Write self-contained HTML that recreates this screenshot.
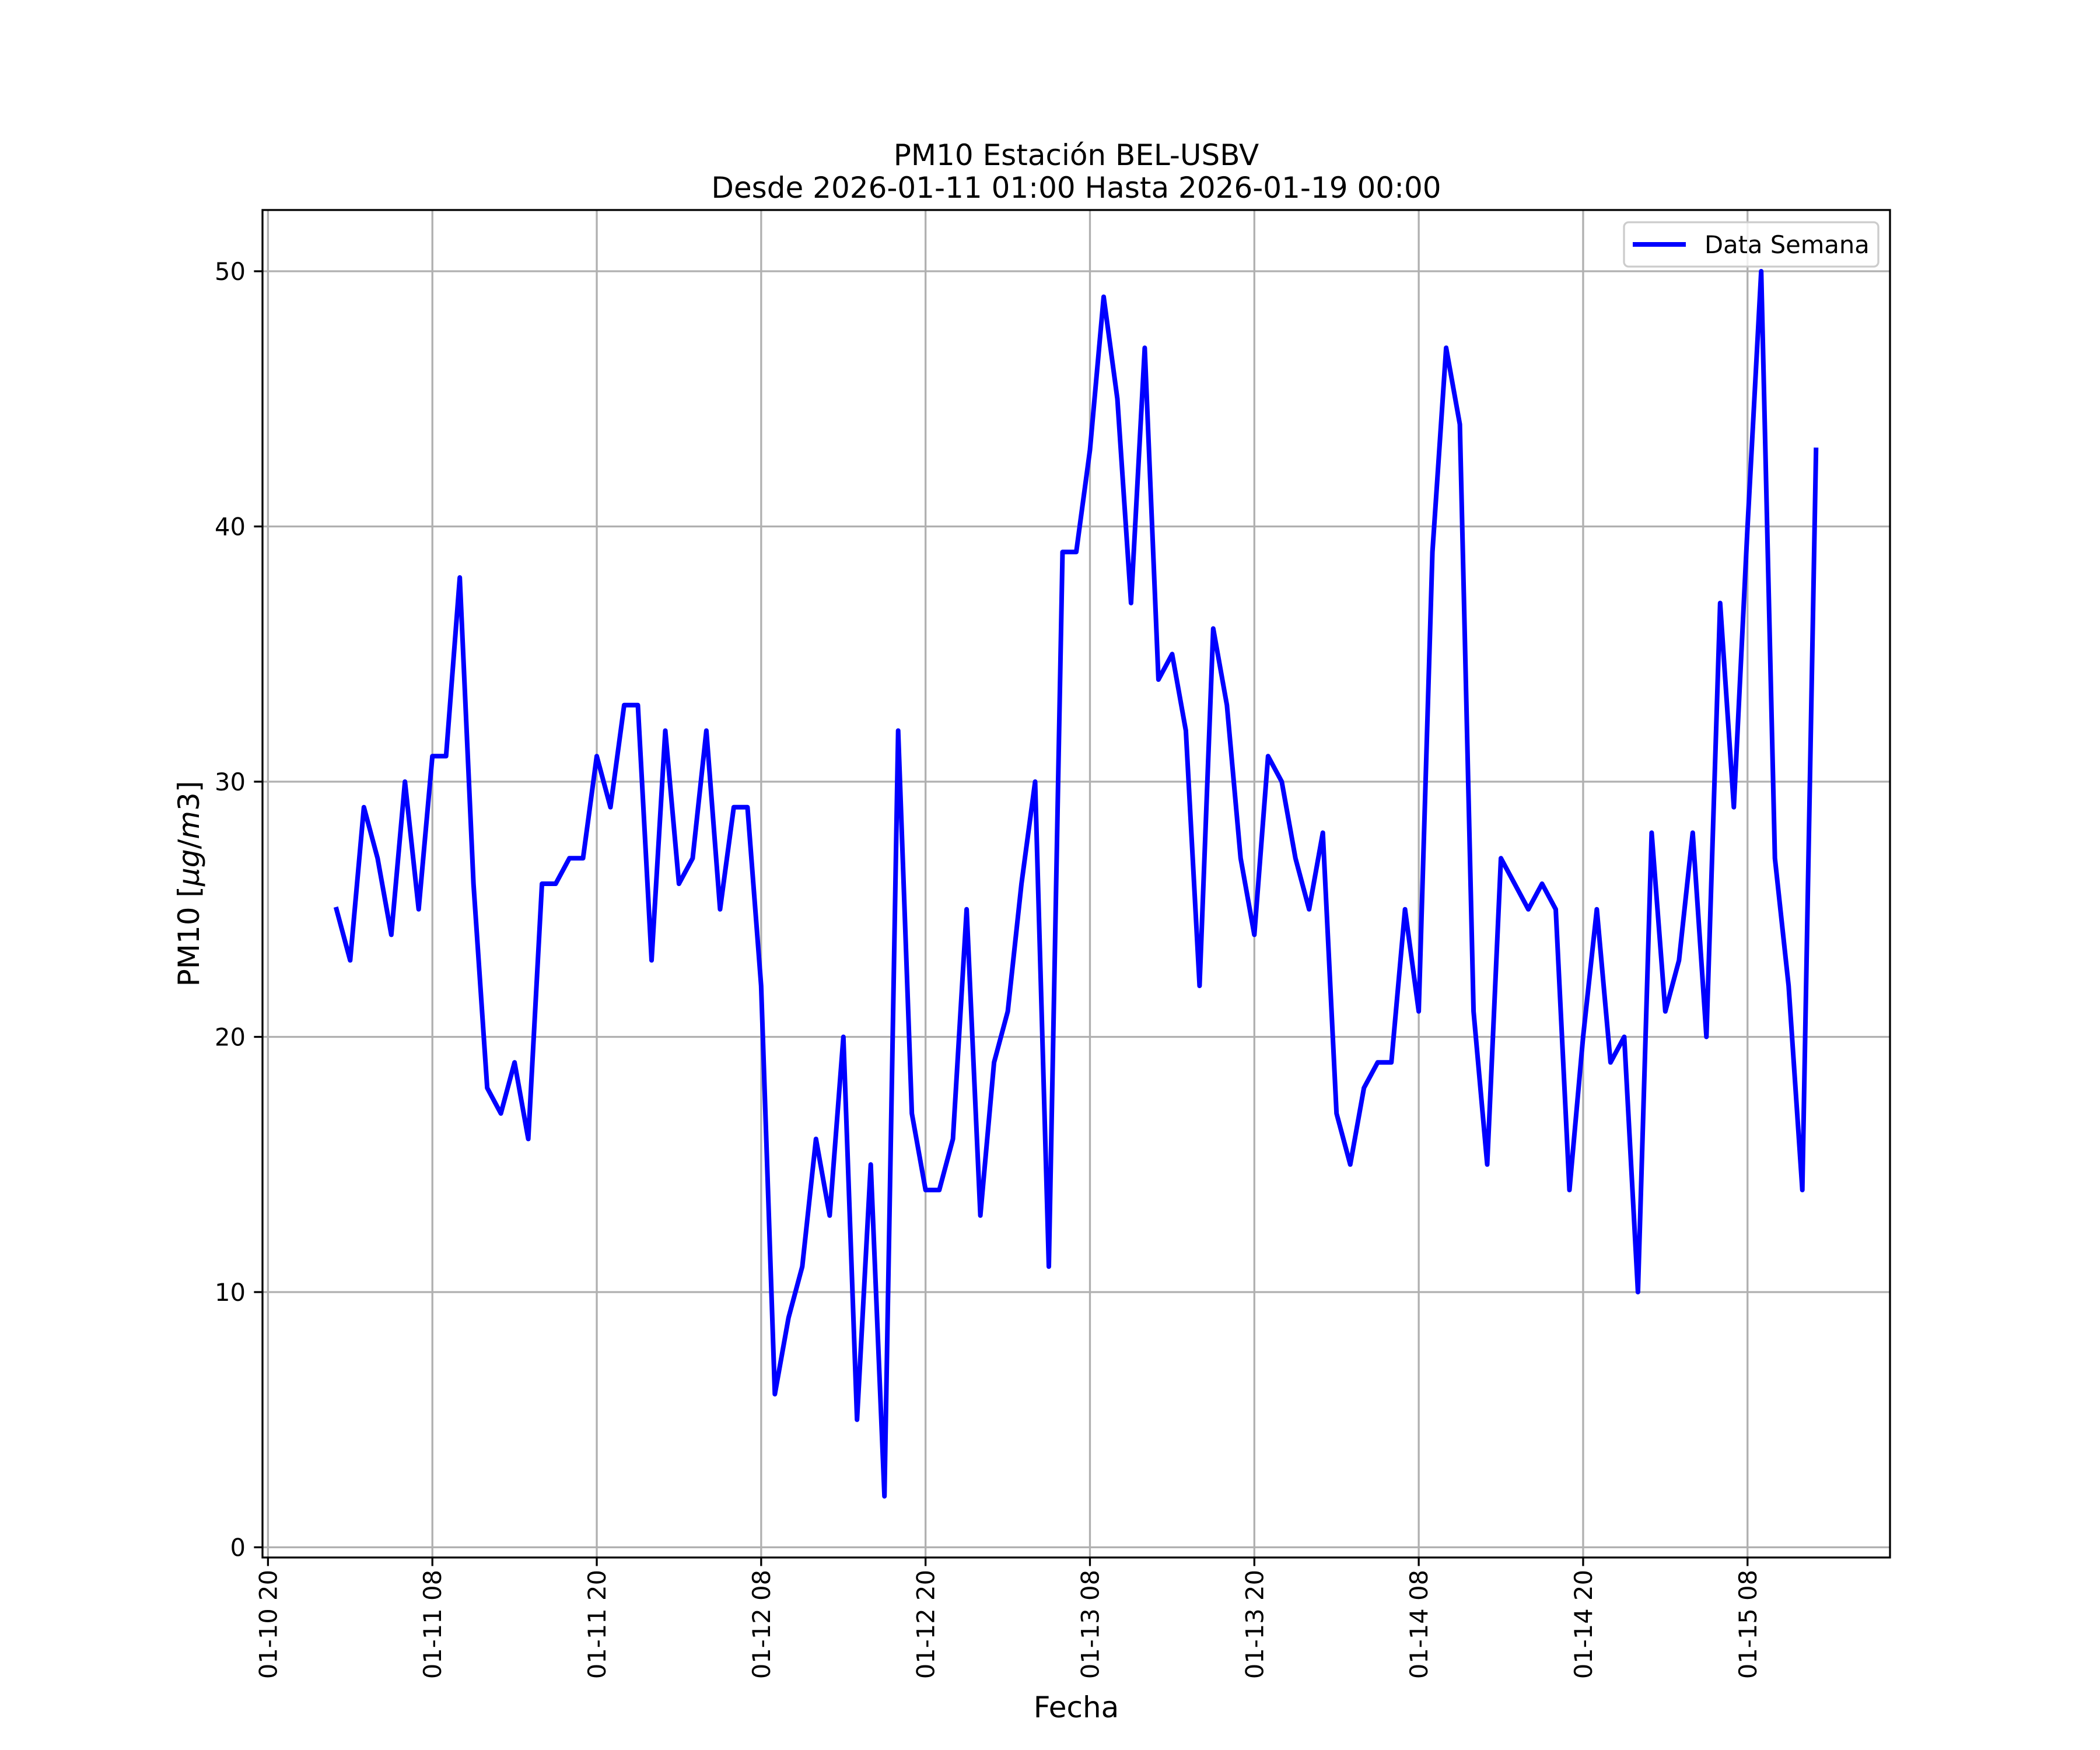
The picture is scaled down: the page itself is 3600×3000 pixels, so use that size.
<!DOCTYPE html>
<html><head><meta charset="utf-8"><style>
html,body{margin:0;padding:0;background:#fff;}
svg{display:block;}
text{font-family:"DejaVu Sans","Liberation Sans",sans-serif;fill:#000;}
</style></head><body>
<svg id="chart" width="3600" height="3000" viewBox="0 0 3600 3000" xmlns="http://www.w3.org/2000/svg">
<rect x="0" y="0" width="3600" height="3000" fill="#fff"/>
<g id="grid"></g>
<g id="series"></g>
<rect x="450" y="360" width="2790" height="2310" fill="none" stroke="#000" stroke-width="3.3"/>
<g id="ticks"></g>
<text x="1845" y="283" font-size="50" text-anchor="middle">PM10 Estación BEL-USBV</text>
<text x="1845" y="339" font-size="50" text-anchor="middle">Desde 2026-01-11 01:00 Hasta 2026-01-19 00:00</text>
<text x="1845" y="2944" font-size="50" text-anchor="middle">Fecha</text>
<text transform="translate(341,1515) rotate(-90)" font-size="50" text-anchor="middle">PM10 [<tspan font-style="italic">μg</tspan>/<tspan font-style="italic">m</tspan>3]</text>
<g>
<rect x="2784" y="381" width="436" height="76" rx="8" fill="#fff" fill-opacity="0.8" stroke="#cccccc" stroke-width="3.3"/>
<line x1="2799" y1="419" x2="2890" y2="419" stroke="#0000ff" stroke-width="8"/>
<text x="2922" y="434" font-size="41.67">Data Semana</text>
</g>
</svg>
<script>
// hours since 01-10 20:00
const startHour = 5;
const pm10Values = [25,23,29,27,24,30,25,31,31,38,26,18,17,19,16,26,26,27,27,31,29,33,33,23,32,26,27,32,25,29,29,22,6,9,11,16,13,20,5,15,2,32,17,14,14,16,25,13,19,21,26,30,11,39,39,43,49,45,37,47,34,35,32,22,36,33,27,24,31,30,27,25,28,17,15,18,19,19,25,21,39,47,44,21,15,27,26,25,26,25,14,20,25,19,20,10,28,21,23,28,20,37,29,40,50,27,22,14,43];
const xTickHours = [0,12,24,36,48,60,72,84,96,108];
const xTickLabels = ["01-10 20","01-11 08","01-11 20","01-12 08","01-12 20","01-13 08","01-13 20","01-14 08","01-14 20","01-15 08"];
const yTicks = [0,10,20,30,40,50];

const L=450,R=3240,T=360,B=2670;
const n=pm10Values.length;
const hMin=startHour, hMax=startHour+n-1;
const hPad=(hMax-hMin)*0.05;
const vMin=Math.min(...pm10Values), vMax=Math.max(...pm10Values);
const vPad=(vMax-vMin)*0.05;
function xScale(h){return L+(h-(hMin-hPad))/((hMax+hPad)-(hMin-hPad))*(R-L);}
function yScale(v){return B-(v-(vMin-vPad))/((vMax+vPad)-(vMin-vPad))*(B-T);}
const NS="http://www.w3.org/2000/svg";
const grid=document.getElementById('grid'), ticks=document.getElementById('ticks'), series=document.getElementById('series');
function mk(tag,attrs){const e=document.createElementNS(NS,tag);for(const k in attrs)e.setAttribute(k,attrs[k]);return e;}

xTickHours.forEach((h,i)=>{
  const x=xScale(h);
  const g=mk('line',{x1:x,y1:T,x2:x,y2:B,stroke:'#b0b0b0','stroke-width':3.3});
  
  
  grid.appendChild(g);
  const t=mk('line',{x1:x,y1:B,x2:x,y2:B+14.6,stroke:'#000','stroke-width':3.3});
  
  
  ticks.appendChild(t);
  const lb=mk('text',{transform:`translate(${x+15},${B+21}) rotate(-90)`,'font-size':41.67,'text-anchor':'end'});
  lb.textContent=xTickLabels[i];
  
  
  ticks.appendChild(lb);
});
yTicks.forEach(v=>{
  const y=yScale(v);
  const g=mk('line',{x1:L,y1:y,x2:R,y2:y,stroke:'#b0b0b0','stroke-width':3.3});
  
  
  grid.appendChild(g);
  const t=mk('line',{x1:L-14.6,y1:y,x2:L,y2:y,stroke:'#000','stroke-width':3.3});
  
  
  ticks.appendChild(t);
  const lb=mk('text',{x:L-29,y:y+15,'font-size':41.67,'text-anchor':'end'});
  lb.textContent=String(v);
  
  
  ticks.appendChild(lb);
});
const pts=pm10Values.map((v,i)=>xScale(startHour+i).toFixed(1)+','+yScale(v).toFixed(1)).join(' ');
const line=mk('polyline',{points:pts,fill:'none',stroke:'#0000ff','stroke-width':8,'stroke-linejoin':'round','stroke-linecap':'square'});


series.appendChild(line);
</script>
</body></html>
